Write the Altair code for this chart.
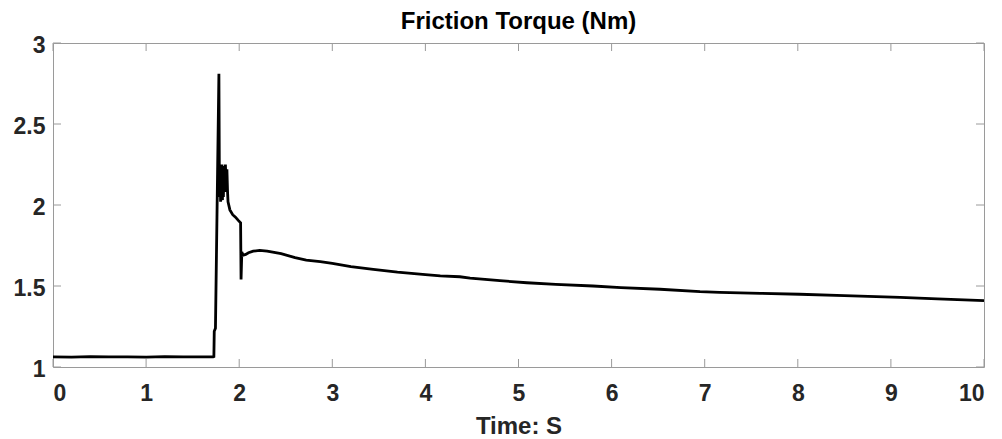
import altair as alt
import pandas as pd

# Friction torque trace (time in s, torque in Nm)
time_s = [
    0.00, 0.20, 0.40, 0.60, 0.80, 1.00, 1.20, 1.40, 1.60, 1.720,
    1.728, 1.732, 1.745, 1.782, 1.788, 1.795, 1.800, 1.805, 1.810, 1.815,
    1.820, 1.825, 1.830, 1.838, 1.845, 1.852, 1.860, 1.868, 1.875, 1.880,
    1.90, 1.93, 1.96, 1.99, 2.015, 2.020, 2.028, 2.04, 2.07, 2.10,
    2.15, 2.22, 2.30, 2.45, 2.60, 2.72, 2.87, 3.00, 3.20, 3.44,
    3.70, 4.00, 4.16, 4.37, 4.48, 4.80, 5.09, 5.40, 5.80, 6.10,
    6.52, 6.95, 7.16, 7.60, 8.02, 8.50, 9.10, 9.50, 10.00,
]
torque_nm = [
    1.063, 1.061, 1.064, 1.062, 1.063, 1.061, 1.064, 1.062, 1.063, 1.063,
    1.065, 1.220, 1.240, 2.810, 2.050, 2.240, 2.020, 2.230, 2.040, 2.250,
    2.030, 2.220, 2.050, 2.240, 2.080, 2.250, 2.100, 2.220, 2.080, 2.020,
    1.970, 1.940, 1.925, 1.905, 1.890, 1.540, 1.710, 1.690, 1.695, 1.705,
    1.715, 1.720, 1.715, 1.700, 1.675, 1.660, 1.650, 1.640, 1.620, 1.603,
    1.585, 1.570, 1.562, 1.557, 1.548, 1.533, 1.520, 1.510, 1.500, 1.490,
    1.480, 1.465, 1.461, 1.455, 1.449, 1.440, 1.430, 1.420, 1.410,
]

x_ticks = [0, 1, 2, 3, 4, 5, 6, 7, 8, 9, 10]
y_ticks = [1.0, 1.5, 2.0, 2.5, 3.0]

W, H = 931, 324
FONT = "Liberation Sans"
TXT = "#262626"
FRAME = "#9a9a9a"
TICK_LEN = 8

df = pd.DataFrame({"t": time_s, "v": torque_nm})
dx = pd.DataFrame({"t": x_ticks})
dy = pd.DataFrame({"v": y_ticks})

xscale = alt.Scale(domain=[0, 10], nice=False, zero=False)
yscale = alt.Scale(domain=[1, 3], nice=False, zero=False)

line = alt.Chart(df).mark_line(color="black", strokeWidth=2.8, clip=True).encode(
    x=alt.X(
        "t:Q",
        scale=xscale,
        axis=alt.Axis(
            values=x_ticks,
            format="d",
            title="Time: S",
            grid=False,
            domain=False,
            ticks=False,
            tickSize=0,
            labelFont=FONT,
            labelFontSize=23,
            labelFontWeight="bold",
            labelColor=TXT,
            labelPadding=15,
            labelBaseline="top",
            titleFont=FONT,
            titleFontSize=24,
            titleFontWeight="bold",
            titleColor=TXT,
            titleBaseline="alphabetic",
            titleY=66,
        ),
    ),
    y=alt.Y(
        "v:Q",
        scale=yscale,
        axis=alt.Axis(
            values=y_ticks,
            title=None,
            grid=False,
            domain=False,
            ticks=False,
            tickSize=0,
            labelFont=FONT,
            labelFontSize=23,
            labelFontWeight="bold",
            labelColor=TXT,
            labelPadding=8,
            labelBaseline="middle",
            labelOffset=2,
            labelExpr="datum.value == 1 || datum.value == 2 || datum.value == 3 ? format(datum.value, 'd') : format(datum.value, '.1f')",
        ),
    ),
)

bottom_ticks = alt.Chart(dx).mark_rule(color=FRAME, strokeWidth=1).encode(
    x=alt.X("t:Q", scale=xscale), y=alt.value(H), y2=alt.value(H - TICK_LEN)
)
top_ticks = alt.Chart(dx).mark_rule(color=FRAME, strokeWidth=1).encode(
    x=alt.X("t:Q", scale=xscale), y=alt.value(0), y2=alt.value(TICK_LEN)
)
left_ticks = alt.Chart(dy).mark_rule(color=FRAME, strokeWidth=1).encode(
    y=alt.Y("v:Q", scale=yscale), x=alt.value(0), x2=alt.value(TICK_LEN)
)
right_ticks = alt.Chart(dy).mark_rule(color=FRAME, strokeWidth=1).encode(
    y=alt.Y("v:Q", scale=yscale), x=alt.value(W), x2=alt.value(W - TICK_LEN)
)

chart = (
    alt.layer(bottom_ticks, top_ticks, left_ticks, right_ticks, line)
    .properties(
        width=W,
        height=H,
        title=alt.TitleParams(
            "Friction Torque (Nm)",
            font=FONT,
            fontSize=24,
            fontWeight="bold",
            color="black",
            anchor="middle",
            offset=0,
        ),
        autosize=alt.AutoSizeParams(type="none"),
        padding={"left": 53, "top": 43, "right": 18, "bottom": 72},
        background="white",
    )
    .configure_view(stroke=FRAME, strokeWidth=1)
)

chart.save("out.html", embed_options={"renderer": "svg", "actions": False})
